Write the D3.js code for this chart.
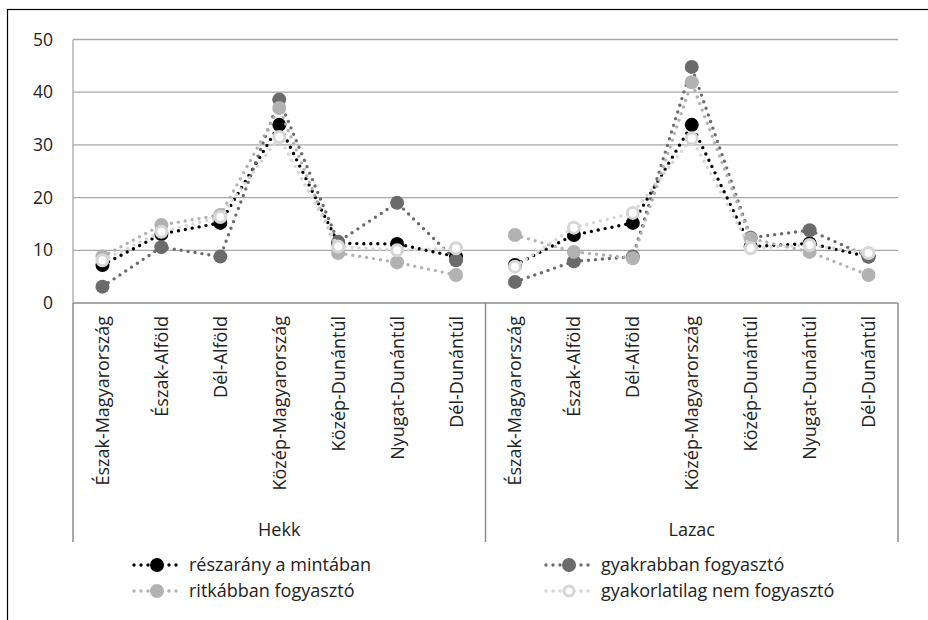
<!DOCTYPE html>
<html>
<head>
<meta charset="utf-8">
<script src="https://cdn.jsdelivr.net/npm/d3@7"></script>
<style>
  body { margin: 0; background: #fff; }
  text { font-family: "Open Sans", sans-serif; fill: #222; }
</style>
</head>
<body>
<div id="chart"></div>
<script>
// groups and regions on the category axis
const groups = ["Hekk", "Lazac"];
const regions = ["Észak-Magyarország", "Észak-Alföld", "Dél-Alföld", "Közép-Magyarország",
                 "Közép-Dunántúl", "Nyugat-Dunántúl", "Dél-Dunántúl"];
const yTicks = [0, 10, 20, 30, 40, 50];

// series values, Hekk then Lazac
const reszarany  = [7.2, 13.1, 15.2, 33.8, 11.3, 11.2, 8.8,   7.2, 12.9, 15.2, 33.8, 10.7, 11.3, 8.8];
const gyakrabban = [3.1, 10.6, 8.8, 38.6, 11.6, 19.0, 8.1,   4.0, 7.9, 8.8, 44.8, 12.4, 13.8, 8.8];
const ritkabban  = [8.8, 14.8, 16.7, 37.0, 9.5, 7.7, 5.3,    12.9, 9.7, 8.5, 41.9, 12.2, 9.7, 5.3];
const nemFogy    = [8.1, 13.5, 16.3, 31.5, 10.7, 10.0, 10.4, 6.9, 14.3, 17.1, 31.2, 10.4, 11.0, 9.5];

const seriesNames = ["részarány a mintában", "gyakrabban fogyasztó",
                     "ritkábban fogyasztó", "gyakorlatilag nem fogyasztó"];

const series = [
  {name: seriesNames[0], values: reszarany,  color: "#000000", fill: "#000000"},
  {name: seriesNames[1], values: gyakrabban, color: "#6b6b6b", fill: "#6b6b6b"},
  {name: seriesNames[2], values: ritkabban,  color: "#b2b2b2", fill: "#b2b2b2"},
  {name: seriesNames[3], values: nemFogy,    color: "#d6d6d6", fill: "#ffffff"}
];

const width = 928, height = 620;
const margin = {top: 39.5, right: 30, bottom: 317, left: 73};

const svg = d3.select("#chart").append("svg")
  .attr("width", width).attr("height", height);

// outer frame
svg.append("rect")
  .attr("x", 7.5).attr("y", 9.5)
  .attr("width", width + 20).attr("height", height + 20)
  .attr("fill", "none").attr("stroke", "#000").attr("stroke-width", 1.2);

// one key per category: group|region
const keys = [];
groups.forEach(g => regions.forEach(r => keys.push(g + "|" + r)));

const x = d3.scaleBand()
  .domain(keys)
  .range([margin.left, width - margin.right]);

const y = d3.scaleLinear()
  .domain([0, 50])
  .range([height - margin.bottom, margin.top]);

// gridlines
svg.append("g")
  .selectAll("line")
  .data(yTicks.filter(d => d > 0))
  .join("line")
  .attr("x1", margin.left).attr("x2", width - margin.right)
  .attr("y1", d => y(d)).attr("y2", d => y(d))
  .attr("stroke", "#a8a8a8").attr("stroke-width", 1.3);

// y axis labels
const yAxis = g => g
  .attr("transform", `translate(${margin.left}, 0)`)
  .call(d3.axisLeft(y).tickValues(yTicks).tickSize(0).tickPadding(20))
  .call(g => g.select(".domain").remove())
  .call(g => g.selectAll("text").style("font-size", "17.5px")
    .style("font-family", "'Open Sans', sans-serif").attr("fill", "#222"));
svg.append("g").call(yAxis);

// left vertical axis line
svg.append("line")
  .attr("x1", margin.left).attr("x2", margin.left)
  .attr("y1", y(50)).attr("y2", y(0))
  .attr("stroke", "#a8a8a8").attr("stroke-width", 1.3);

// category axis with group dividers
const x0 = y(0);
svg.append("line")
  .attr("x1", margin.left).attr("x2", width - margin.right)
  .attr("y1", x0).attr("y2", x0)
  .attr("stroke", "#8c8c8c").attr("stroke-width", 1.5);

const dividers = [keys[0], keys[regions.length]].map(k => x(k)).concat([x(keys[keys.length - 1]) + x.bandwidth()]);
svg.append("g")
  .selectAll("line")
  .data(dividers)
  .join("line")
  .attr("x1", d => d).attr("x2", d => d)
  .attr("y1", x0).attr("y2", 542)
  .attr("stroke", "#8c8c8c").attr("stroke-width", 1.5);

svg.append("g")
  .selectAll("text")
  .data(keys)
  .join("text")
  .attr("transform", d => `translate(${x(d) + x.bandwidth() / 2 + 6.5}, ${x0 + 13}) rotate(-90)`)
  .attr("text-anchor", "end")
  .style("font-size", "18px")
  .text(d => d.split("|")[1]);

svg.append("g")
  .selectAll("text")
  .data(groups)
  .join("text")
  .attr("x", g => {
    const ks = keys.filter(k => k.startsWith(g + "|"));
    return (x(ks[0]) + x(ks[ks.length - 1]) + x.bandwidth()) / 2;
  })
  .attr("y", 536)
  .attr("text-anchor", "middle")
  .style("font-size", "18px")
  .text(g => g);

// series lines (separate segment per group) and markers
const line = d3.line()
  .x(d => x(d.key) + x.bandwidth() / 2)
  .y(d => y(d.v));

series.forEach(s => {
  const pts = keys.map((k, i) => ({key: k, v: s.values[i]}));
  const g = svg.append("g");
  groups.forEach(gr => {
    g.append("path")
      .datum(pts.filter(p => p.key.startsWith(gr + "|")))
      .attr("d", line)
      .attr("fill", "none")
      .attr("stroke", s.color)
      .attr("stroke-width", 3.4)
      .attr("stroke-linecap", "round")
      .attr("stroke-dasharray", "0 7");
  });
  g.selectAll("circle")
    .data(pts)
    .join("circle")
    .attr("cx", d => x(d.key) + x.bandwidth() / 2)
    .attr("cy", d => y(d.v))
    .attr("r", s.fill === "#ffffff" ? 5.5 : 7)
    .attr("fill", s.fill)
    .attr("stroke", s.color)
    .attr("stroke-width", s.fill === "#ffffff" ? 3 : 0);
});

// legend
const legPos = [[132, 565], [544, 565], [132, 591], [544, 591]];
const leg = svg.append("g")
  .selectAll("g")
  .data(series)
  .join("g")
  .attr("transform", (d, i) => `translate(${legPos[i][0]}, ${legPos[i][1]})`);

leg.append("line")
  .attr("x1", 2).attr("x2", 48).attr("y1", 0).attr("y2", 0)
  .attr("stroke", d => d.color)
  .attr("stroke-width", 3.4)
  .attr("stroke-linecap", "round")
  .attr("stroke-dasharray", "0 7");
leg.append("circle")
  .attr("cx", 25).attr("cy", 0)
  .attr("r", d => d.fill === "#ffffff" ? 5 : 7)
  .attr("fill", d => d.fill)
  .attr("stroke", d => d.color)
  .attr("stroke-width", d => d.fill === "#ffffff" ? 3 : 0);
leg.append("text")
  .attr("x", 57).attr("y", 0)
  .attr("dy", "0.35em")
  .style("font-size", "18px")
  .text(d => d.name);
</script>
</body>
</html>
